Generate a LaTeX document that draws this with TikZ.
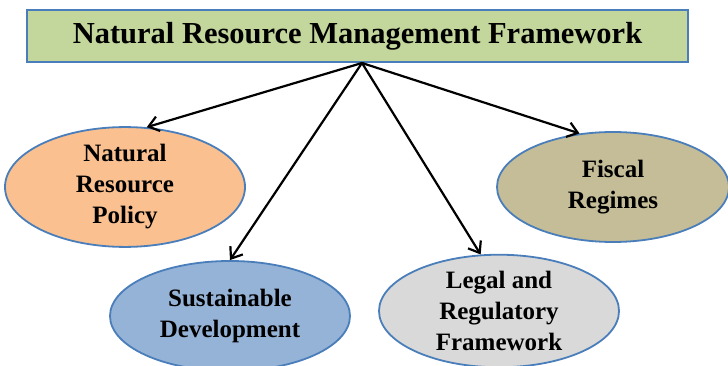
\documentclass[tikz,border=0pt]{standalone}
\usepackage{fontspec}
\setmainfont{Liberation Serif}
\usetikzlibrary{shapes.geometric,arrows.meta}
\definecolor{titlefill}{HTML}{C3D69B}
\definecolor{edgeblue}{HTML}{4A7EBB}
\definecolor{orangefill}{HTML}{FAC090}
\definecolor{bluefill}{HTML}{95B3D7}
\definecolor{tanfill}{HTML}{C4BD97}
\definecolor{greyfill}{HTML}{D9D9D9}
\tikzset{
  titlebox/.style={draw=edgeblue,line width=2pt,fill=titlefill,minimum width=661pt,minimum height=52pt,inner sep=0pt,
    font=\fontsize{30.5}{34}\selectfont\bfseries},
  oval/.style={ellipse,draw=edgeblue,line width=1.8pt,minimum width=240pt,minimum height=110pt,inner sep=0pt,align=center,
    font=\fontsize{25}{31}\selectfont\bfseries},
  link/.style={line width=2.2pt,-{Straight Barb[length=10pt,width=15pt,line width=2.2pt]}}
}
\begin{document}
\begin{tikzpicture}[x=1pt,y=-1pt]
\useasboundingbox (0,0) rectangle (728,366);
\node[titlebox] (title) at (357.5,36) {Natural Resource Management Framework};
\coordinate (hub) at (362,63);
\node[oval,fill=orangefill] (policy) at (125,187) {Natural\\Resource\\Policy};
\node[oval,fill=bluefill] (sustain) at (230,316) {Sustainable\\Development};
\node[oval,fill=tanfill,minimum width=232pt] (fiscal) at (613,187) {Fiscal\\Regimes};
\node[oval,fill=greyfill,minimum height=108pt] (legal) at (499,311) {Legal and\\Regulatory\\Framework};
\draw[link] (hub) -- (policy.70);
\draw[link] (hub) -- (sustain.north);
\draw[link] (hub) -- (legal.108);
\draw[link] (hub) -- (fiscal.122);
\end{tikzpicture}
\end{document}
